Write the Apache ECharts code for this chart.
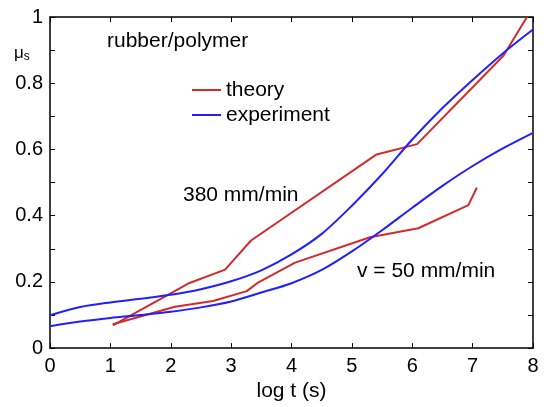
<!DOCTYPE html>
<html>
<head>
<meta charset="utf-8">
<script src="https://cdn.jsdelivr.net/npm/echarts@6/dist/echarts.min.js"></script>
<style>html,body{margin:0;padding:0;background:#fff;}#c{width:544px;height:407px;}</style>
</head>
<body>
<div id="c"></div>
<script>
// Data
var theory380X = [1.04, 2.29, 2.9, 3.33, 5.41, 6.08, 7.51, 7.9];
var theory380Y = [0.069, 0.195, 0.237, 0.325, 0.585, 0.616, 0.883, 1.0];
var theory50X = [1.04, 2.07, 2.7, 3.26, 3.43, 4.06, 5.3, 6.1, 6.93, 7.07];
var theory50Y = [0.072, 0.125, 0.142, 0.172, 0.196, 0.258, 0.335, 0.362, 0.432, 0.485];
var exp380X = [0, 0.5, 1, 1.5, 2, 2.5, 3, 3.5, 4, 4.5, 5, 5.5, 6, 6.5, 7, 7.5, 8];
var exp380Y = [0.099, 0.124, 0.138, 0.149, 0.161, 0.178, 0.202, 0.235, 0.283, 0.345, 0.43, 0.525, 0.63, 0.725, 0.81, 0.89, 0.962];
var exp50X = [0, 0.5, 1, 1.5, 2, 2.5, 3, 3.5, 4, 4.5, 5, 5.5, 6, 6.5, 7, 7.5, 8];
var exp50Y = [0.066, 0.08, 0.091, 0.1, 0.11, 0.123, 0.141, 0.168, 0.196, 0.236, 0.292, 0.356, 0.424, 0.49, 0.55, 0.603, 0.65];
var xTicks = [0, 1, 2, 3, 4, 5, 6, 7, 8];
var yLabels = ['0', '0.2', '0.4', '0.6', '0.8', '1'];

function zip(xs, ys) { return xs.map(function (x, i) { return [x, ys[i]]; }); }

var RED = '#d42a2a', BLUE = '#2020ff';
var FONT = 'Liberation Sans, Arial, sans-serif';
var chart = echarts.init(document.getElementById('c'), null, {renderer: 'canvas'});

var axisLine = {show: true, onZero: false, lineStyle: {color: '#000', width: 1.5}};
var tickIn = {show: true, inside: true, length: 5, lineStyle: {color: '#000', width: 1}};

function lineSeries(name, xs, ys, color, smooth) {
  return {
    name: name, type: 'line', data: zip(xs, ys), symbol: 'none', smooth: smooth,
    xAxisIndex: 0, yAxisIndex: 0,
    lineStyle: {color: color, width: 2}, itemStyle: {color: color},
    animation: false, clip: true
  };
}

chart.setOption({
  animation: false,
  textStyle: {fontFamily: FONT},
  grid: {left: 50, right: 11, top: 17, bottom: 57, containLabel: false},
  xAxis: [{
    type: 'value', min: 0, max: 8, interval: 1, position: 'bottom',
    axisLine: axisLine, axisTick: tickIn, splitLine: {show: false},
    axisLabel: {color: '#000', fontSize: 20, margin: 8, fontFamily: FONT,
      formatter: function (v) { return xTicks.indexOf(v) >= 0 ? String(v) : ''; }},
    name: 'log t (s)', nameLocation: 'middle', nameGap: 29,
    nameTextStyle: {color: '#000', fontSize: 21, fontFamily: FONT}
  }, {
    type: 'value', min: 0, max: 8, interval: 1, position: 'top',
    axisLine: axisLine, axisTick: tickIn, splitLine: {show: false}, axisLabel: {show: false}
  }],
  yAxis: [{
    type: 'value', min: 0, max: 1, interval: 0.1, position: 'left',
    axisLine: axisLine, axisTick: tickIn, splitLine: {show: false},
    axisLabel: {color: '#000', fontSize: 20, margin: 7, fontFamily: FONT,
      formatter: function (v) {
        var s = String(Math.round(v * 10) / 10);
        return yLabels.indexOf(s) >= 0 ? s : '';
      }}
  }, {
    type: 'value', min: 0, max: 1, interval: 0.1, position: 'right',
    axisLine: axisLine, axisTick: tickIn, splitLine: {show: false}, axisLabel: {show: false}
  }],
  legend: {
    data: ['theory', 'experiment'], orient: 'vertical', left: 192, top: 78,
    itemWidth: 29, itemHeight: 2, itemGap: 1, icon: 'rect',
    textStyle: {color: '#000', fontSize: 21, fontFamily: FONT, lineHeight: 24},
    padding: 0
  },
  series: [
    lineSeries('theory', theory380X, theory380Y, RED, false),
    lineSeries('theory', theory50X, theory50Y, RED, false),
    lineSeries('experiment', exp380X, exp380Y, BLUE, 0.3),
    lineSeries('experiment', exp50X, exp50Y, BLUE, 0.3)
  ],
  graphic: [
    {type: 'text', left: 107, top: 31, style: {text: 'rubber/polymer', fontSize: 21, fontFamily: FONT, fill: '#000'}},
    {type: 'text', left: 183, top: 185, style: {text: '380 mm/min', fontSize: 21, fontFamily: FONT, fill: '#000'}},
    {type: 'text', left: 357, top: 261, style: {text: 'v = 50 mm/min', fontSize: 21, fontFamily: FONT, fill: '#000'}},
    {type: 'text', left: 14, top: 45, style: {
      text: '{m|μ}{s|s}', fontFamily: FONT, fill: '#000',
      rich: {m: {fontSize: 17, fontFamily: FONT}, s: {fontSize: 12, fontFamily: FONT, padding: [6, 0, 0, 0]}}
    }}
  ]
});
</script>
</body>
</html>
